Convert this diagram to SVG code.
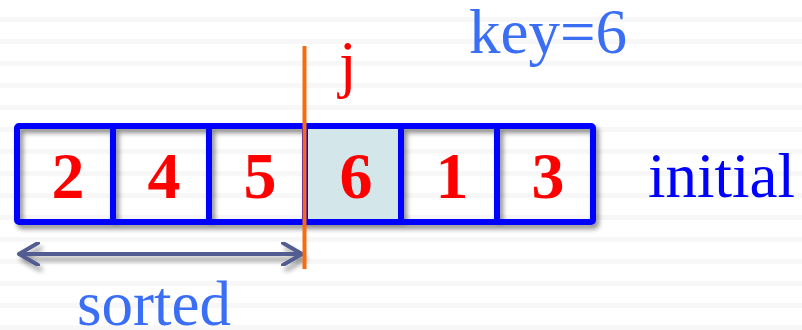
<svg xmlns="http://www.w3.org/2000/svg" width="802" height="330" viewBox="0 0 802 330">
<defs>
<style>
text{font-family:'Liberation Serif','Times New Roman',Times,serif}
.num{font-weight:bold;font-size:66px;fill:#ff0000;text-anchor:middle}
.lbl{font-size:63px}
.stripe{fill:#f7f7f7}
</style>
<filter id="sh" x="-10%" y="-20%" width="120%" height="150%">
<feGaussianBlur in="SourceAlpha" stdDeviation="2.5"/>
<feOffset dx="3" dy="4" result="b"/>
<feComponentTransfer><feFuncA type="linear" slope="0.45"/></feComponentTransfer>
<feMerge><feMergeNode/><feMergeNode in="SourceGraphic"/></feMerge>
</filter>
<filter id="sh2" filterUnits="userSpaceOnUse" x="0" y="225" width="330" height="60">
<feGaussianBlur in="SourceAlpha" stdDeviation="2.5"/>
<feOffset dx="3" dy="5" result="b"/>
<feComponentTransfer><feFuncA type="linear" slope="0.4"/></feComponentTransfer>
<feMerge><feMergeNode/><feMergeNode in="SourceGraphic"/></feMerge>
</filter>
<marker id="chev" viewBox="0 0 24 24" refX="21" refY="12" markerWidth="24" markerHeight="24" markerUnits="userSpaceOnUse" orient="auto-start-reverse">
<path d="M2 1 L21 12 L2 23" fill="none" stroke="#525c91" stroke-width="4" stroke-linecap="round" stroke-linejoin="round"/>
</marker>
</defs>
<rect width="802" height="330" fill="#ffffff"/>
<g id="background">
<rect class="stripe" x="0" y="17" width="802" height="5"/>
<rect class="stripe" x="0" y="39" width="802" height="5"/>
<rect class="stripe" x="0" y="61" width="802" height="5"/>
<rect class="stripe" x="0" y="83" width="802" height="5"/>
<rect class="stripe" x="0" y="105" width="802" height="5"/>
<rect class="stripe" x="0" y="127" width="802" height="5"/>
<rect class="stripe" x="0" y="149" width="802" height="5"/>
<rect class="stripe" x="0" y="171" width="802" height="5"/>
<rect class="stripe" x="0" y="193" width="802" height="5"/>
<rect class="stripe" x="0" y="215" width="802" height="5"/>
<rect class="stripe" x="0" y="237" width="802" height="5"/>
<rect class="stripe" x="0" y="259" width="802" height="5"/>
<rect class="stripe" x="0" y="281" width="802" height="5"/>
<rect class="stripe" x="0" y="303" width="802" height="5"/>
<rect class="stripe" x="0" y="325" width="802" height="5"/>
</g>
<g id="array" filter="url(#sh)">
<rect x="305" y="126" width="96" height="96" fill="#d3e6ea"/>
<rect x="17" y="126" width="576" height="96" rx="2" fill="none" stroke="#0000ff" stroke-width="6"/>
<line x1="113" y1="126" x2="113" y2="222" stroke="#0000ff" stroke-width="6"/>
<line x1="209" y1="126" x2="209" y2="222" stroke="#0000ff" stroke-width="6"/>
<line x1="305" y1="126" x2="305" y2="222" stroke="#0000ff" stroke-width="6"/>
<line x1="401" y1="126" x2="401" y2="222" stroke="#0000ff" stroke-width="6"/>
<line x1="497" y1="126" x2="497" y2="222" stroke="#0000ff" stroke-width="6"/>
</g>
<g id="cell-0"><text class="num" x="68" y="198" font-family="Liberation Serif">2</text></g>
<g id="cell-1"><text class="num" x="164" y="198" font-family="Liberation Serif">4</text></g>
<g id="cell-2"><text class="num" x="260" y="198" font-family="Liberation Serif">5</text></g>
<g id="cell-3"><text class="num" x="356" y="198" font-family="Liberation Serif">6</text></g>
<g id="cell-4"><text class="num" x="452" y="198" font-family="Liberation Serif">1</text></g>
<g id="cell-5"><text class="num" x="548" y="198" font-family="Liberation Serif">3</text></g>
<g id="connectors">
<g filter="url(#sh2)">
<line id="sorted-arrow" x1="19" y1="254" x2="302" y2="254" stroke="#525c91" stroke-width="4" marker-start="url(#chev)" marker-end="url(#chev)"/>
</g>
<line id="divider" x1="304.5" y1="46" x2="304.5" y2="269" stroke="#fa6a10" stroke-width="4"/>
</g>
<g id="label-key"><text class="lbl" x="469" y="53" fill="#3a6ef5" font-family="Liberation Serif">key=6</text></g>
<g id="label-j"><text class="lbl" x="339" y="85" fill="#ff0000" font-family="Liberation Serif">j</text></g>
<g id="label-initial"><text class="lbl" x="648" y="197" fill="#0000ff" font-family="Liberation Serif">initial</text></g>
<g id="label-sorted"><text class="lbl" x="77" y="325" fill="#3a6ef5" font-family="Liberation Serif">sorted</text></g>
</svg>
